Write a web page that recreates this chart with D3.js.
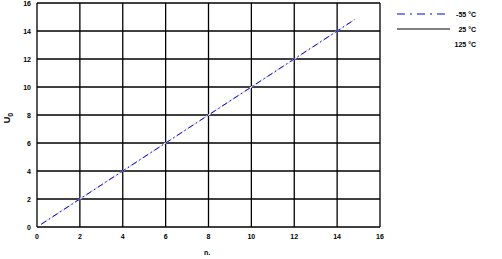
<!DOCTYPE html>
<html><head><meta charset="utf-8">
<script src="https://cdn.jsdelivr.net/npm/d3@7"></script>
<style>body{margin:0;background:#fff}svg{display:block}</style>
</head><body><svg id="c" width="502" height="259"></svg>
<script>
const xTicks = [0,2,4,6,8,10,12,14,16];
const yTicks = [0,2,4,6,8,10,12,14,16];
const seriesNames = ["25 °C","125 °C","-55 °C"];
const xVals = [0.2, 14.8];
const v25 = [0.2, 14.8];
const v125 = [0.2, 14.8];
const vm55 = [0.2, 14.8];
const legendOrder = ["-55 °C","25 °C","125 °C"];

const svg = d3.select("#c");
const m = {l:37, r:380, t:3, b:227};
const x = d3.scaleLinear().domain([0,16]).range([m.l,m.r]);
const y = d3.scaleLinear().domain([0,16]).range([m.b,m.t]);

const g = svg.append("g");
g.selectAll(".vg").data(xTicks).enter().append("line")
  .attr("x1",d=>x(d)).attr("x2",d=>x(d)).attr("y1",m.t).attr("y2",m.b)
  .attr("stroke","#000").attr("stroke-width",1.3);
g.selectAll(".hg").data(yTicks).enter().append("line")
  .attr("y1",d=>y(d)).attr("y2",d=>y(d)).attr("x1",m.l).attr("x2",m.r)
  .attr("stroke","#000").attr("stroke-width",1.3);

const font = "Liberation Sans, Arial, sans-serif";
g.selectAll(".xt").data(xTicks).enter().append("text")
  .attr("x",d=>x(d)).attr("y",m.b+12).attr("text-anchor","middle")
  .attr("font-family",font).attr("font-size",7).attr("font-weight","bold").text(d=>d);
g.selectAll(".yt").data(yTicks).enter().append("text")
  .attr("x",m.l-6).attr("y",d=>y(d)+2.5).attr("text-anchor","end")
  .attr("font-family",font).attr("font-size",7).attr("font-weight","bold").text(d=>d);

svg.append("text").attr("x",207).attr("y",255).attr("text-anchor","middle")
  .attr("font-family",font).attr("font-size",7).attr("font-weight","bold").text("n.");
svg.append("text").attr("transform","translate(10,118) rotate(-90)").attr("text-anchor","middle")
  .attr("font-family",font).attr("font-size",9).attr("font-weight","bold").text("U").append("tspan")
  .attr("font-size",7).attr("dy",3).text("0");

const styles = {
  "25 °C": {c:"#000", d:null, w:1},
  "125 °C": {c:"#fff", d:null, w:1.2},
  "-55 °C": {c:"#0000ee", d:"6,3,1.5,3", w:1}
};
const dataBy = {"25 °C":v25, "125 °C":v125, "-55 °C":vm55};
const line = d3.line().x(d=>x(d[0])).y(d=>y(d[1]));
seriesNames.forEach(n=>{
  const pts = xVals.map((xv,i)=>[xv,dataBy[n][i]]);
  svg.append("path").attr("d",line(pts)).attr("fill","none")
    .attr("stroke",styles[n].c).attr("stroke-width",styles[n].w)
    .attr("stroke-dasharray",styles[n].d);
});

const ly = d3.scalePoint().domain(legendOrder).range([14,44]);
legendOrder.forEach(n=>{
  svg.append("line").attr("x1",397).attr("x2",450).attr("y1",ly(n)).attr("y2",ly(n))
    .attr("stroke",styles[n].c).attr("stroke-width",1.2)
    .attr("stroke-dasharray",n==="-55 °C"?"8,5,2,5":null);
  svg.append("text").attr("x",476).attr("y",ly(n)+2.5).attr("text-anchor","end")
    .attr("font-family",font).attr("font-size",7).attr("font-weight","bold").text(n);
});
</script></body></html>
